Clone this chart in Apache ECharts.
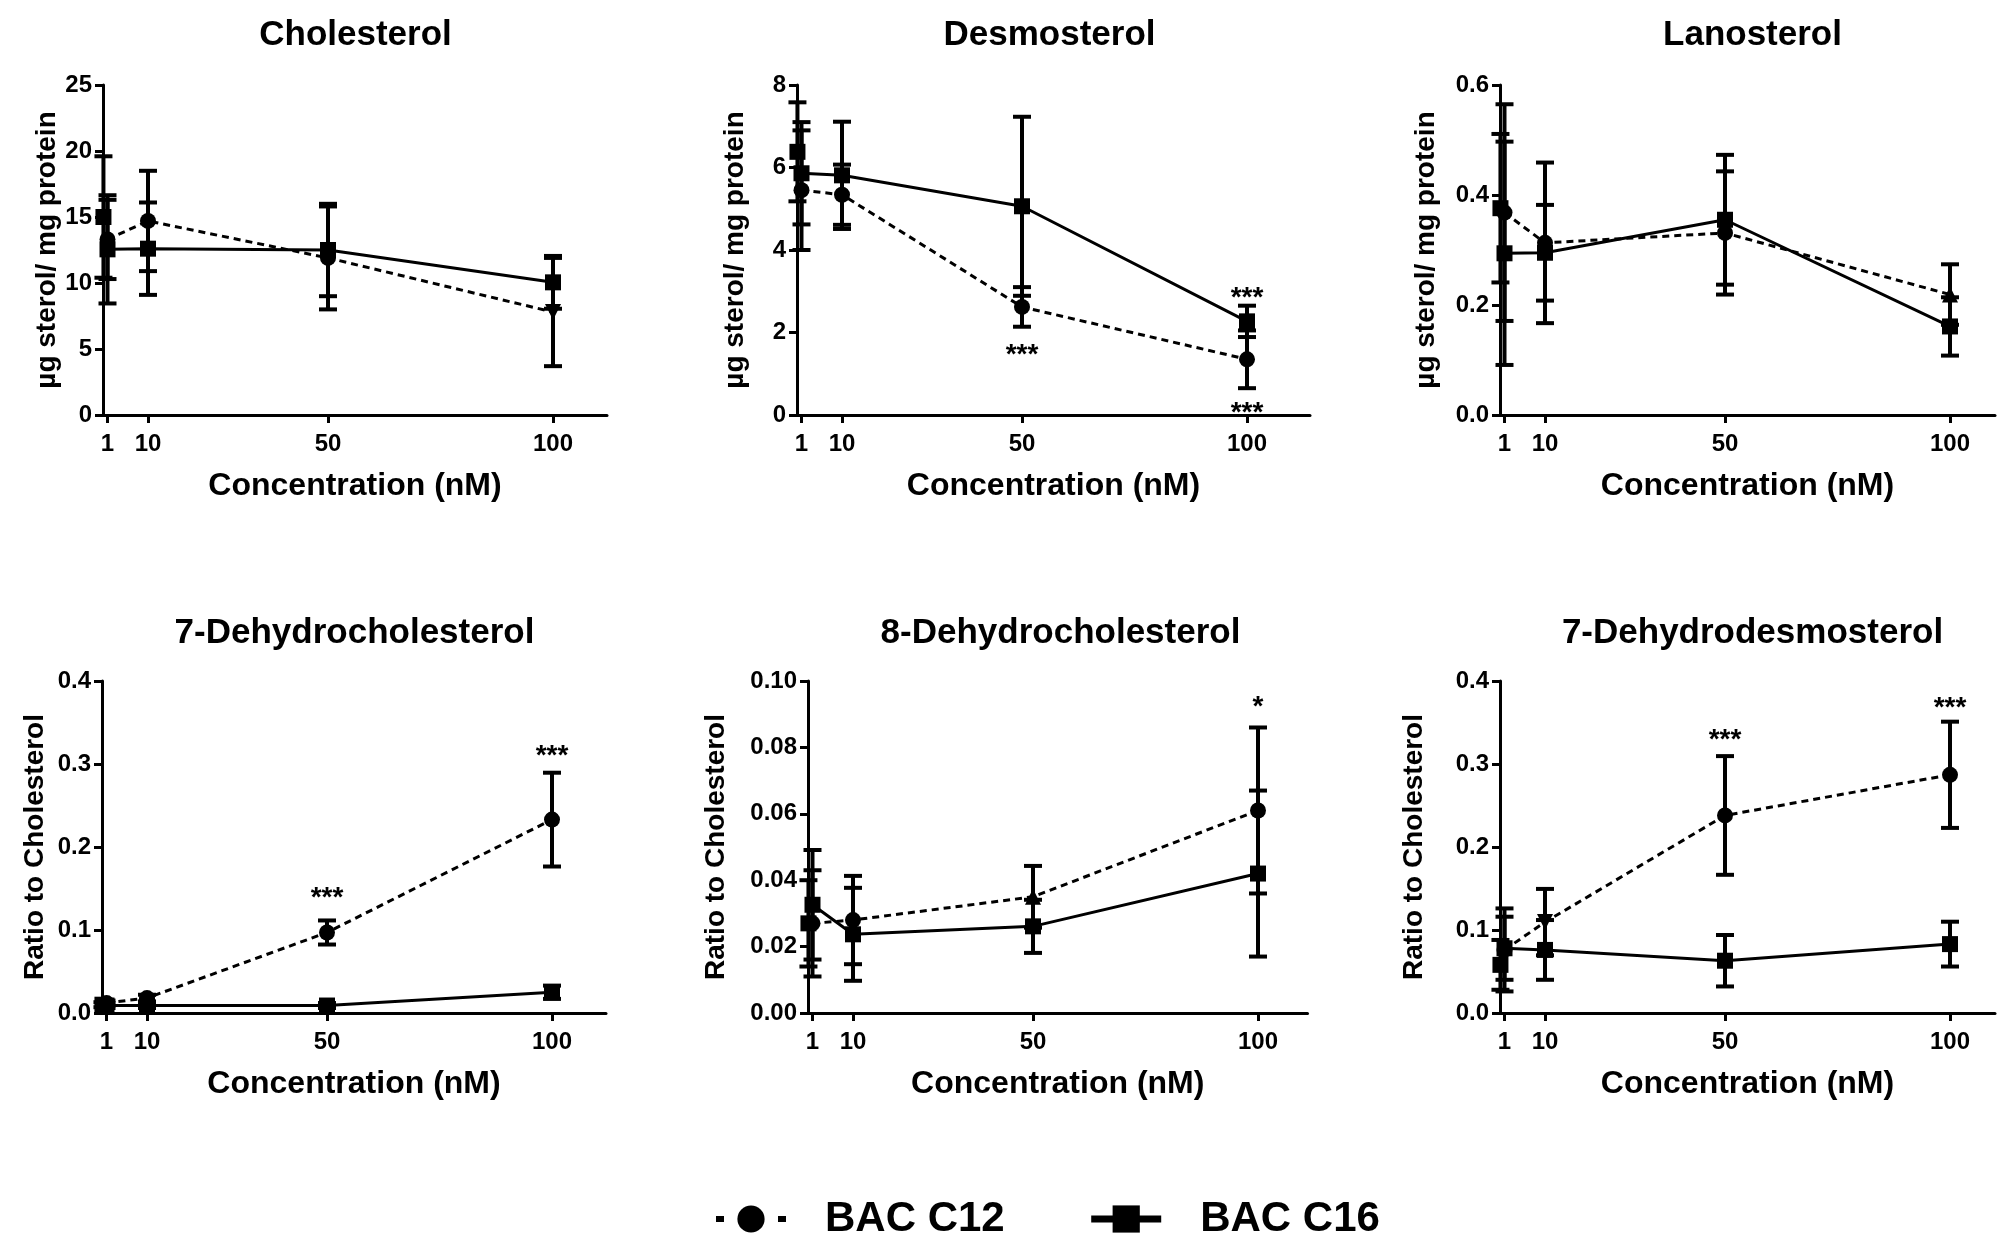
<!DOCTYPE html>
<html><head><meta charset="utf-8">
<script src="https://cdn.jsdelivr.net/npm/echarts@6/dist/echarts.min.js"></script>
<style>html,body{margin:0;padding:0;background:#fff}#c{width:2010px;height:1249px}</style>
</head><body><div id="c"></div>
<script>
// ---------- data ----------
const titles = ['Cholesterol', 'Desmosterol', 'Lanosterol', '7-Dehydrocholesterol', '8-Dehydrocholesterol', '7-Dehydrodesmosterol'];
const yNames = ['µg sterol/ mg protein', 'µg sterol/ mg protein', 'µg sterol/ mg protein', 'Ratio to Cholesterol', 'Ratio to Cholesterol', 'Ratio to Cholesterol'];
const xName = 'Concentration (nM)';
const xTicks = [1, 10, 50, 100];
const doses = [1, 10, 50, 100];
const controlDose = 0.1;
const seriesNames = ['BAC C12', 'BAC C16'];

// y axis: max, step, decimals; x axis max
const yMax = [25, 8, 0.6, 0.4, 0.10, 0.4];
const yStep = [5, 2, 0.2, 0.1, 0.02, 0.1];
const yDecimals = [0, 0, 1, 1, 2, 1];
const xMax = [112, 114, 110, 112, 111, 110];

// Cholesterol
const cholC12 = [13.3, 14.7, 11.9, 7.8];
const cholC12Err = [3.0, 3.8, 3.9, 4.1];
const cholC16 = [12.55, 12.6, 12.5, 10.05];
const cholC16Err = [4.1, 3.5, 3.5, 2.0];
const cholCtrl = [15.0, 4.6];
// Desmosterol
const desC12 = [5.45, 5.34, 2.62, 1.35];
const desC12Err = [1.45, 0.73, 0.48, 0.7];
const desC16 = [5.86, 5.81, 5.06, 2.27];
const desC16Err = [1.24, 1.3, 2.17, 0.38];
const desCtrl = [6.38, 1.2];
// Lanosterol
const lanC12 = [0.368, 0.313, 0.331, 0.219];
const lanC12Err = [0.197, 0.146, 0.112, 0.055];
const lanC16 = [0.294, 0.295, 0.355, 0.161];
const lanC16Err = [0.203, 0.087, 0.118, 0.053];
const lanCtrl = [0.376, 0.135];
// 7-Dehydrocholesterol
const dhc7C12 = [0.012, 0.018, 0.097, 0.233];
const dhc7C12Err = [0.003, 0.004, 0.0145, 0.0565];
const dhc7C16 = [0.009, 0.009, 0.009, 0.025];
const dhc7C16Err = [0.003, 0.003, 0.003, 0.008];
const dhc7Ctrl = [0.010, 0.003];
// 8-Dehydrocholesterol
const dhc8C12 = [0.027, 0.028, 0.035, 0.061];
const dhc8C12Err = [0.016, 0.0133, 0.0093, 0.025];
const dhc8C16 = [0.0326, 0.0237, 0.0261, 0.042];
const dhc8C16Err = [0.0165, 0.014, 0.008, 0.025];
const dhc8Ctrl = [0.027, 0.013];
// 7-Dehydrodesmosterol
const dhd7C12 = [0.076, 0.1095, 0.238, 0.287];
const dhd7C12Err = [0.05, 0.04, 0.0715, 0.064];
const dhd7C16 = [0.078, 0.076, 0.063, 0.083];
const dhd7C16Err = [0.038, 0.036, 0.031, 0.027];
const dhd7Ctrl = [0.058, 0.03];

// significance marks: [dose, value, text]
const cholStars = [];
const desStars = [[50, 1.62, '***'], [100, 3.0, '***'], [100, 0.2, '***']];
const lanStars = [];
const dhc7Stars = [[50, 0.147, '***'], [100, 0.318, '***']];
const dhc8Stars = [[100, 0.0942, '*']];
const dhd7Stars = [[50, 0.337, '***'], [100, 0.376, '***']];

// ---------- layout / style (not data) ----------
const panels = [
  {c12: cholC12, c12e: cholC12Err, c16: cholC16, c16e: cholC16Err, ctrl: cholCtrl, stars: cholStars},
  {c12: desC12, c12e: desC12Err, c16: desC16, c16e: desC16Err, ctrl: desCtrl, stars: desStars},
  {c12: lanC12, c12e: lanC12Err, c16: lanC16, c16e: lanC16Err, ctrl: lanCtrl, stars: lanStars},
  {c12: dhc7C12, c12e: dhc7C12Err, c16: dhc7C16, c16e: dhc7C16Err, ctrl: dhc7Ctrl, stars: dhc7Stars},
  {c12: dhc8C12, c12e: dhc8C12Err, c16: dhc8C16, c16e: dhc8C16Err, ctrl: dhc8Ctrl, stars: dhc8Stars},
  {c12: dhd7C12, c12e: dhd7C12Err, c16: dhd7C16, c16e: dhd7C16Err, ctrl: dhd7Ctrl, stars: dhd7Stars}
];
const c12Shapes = [
  ['circle', 'circle', 'circle', 'down'],
  ['circle', 'circle', 'circle', 'circle'],
  ['circle', 'circle', 'circle', 'triangle'],
  ['circle', 'circle', 'circle', 'circle'],
  ['circle', 'circle', 'triangle', 'circle'],
  ['circle', 'down', 'circle', 'circle']
];
const gridLeft = [103, 797, 1500, 102, 808, 1500];
const gridTop = [85, 85, 85, 681, 681, 681];
const gridH = [330, 330, 330, 332, 332, 332];
const PX_PER_UNIT = 4.5;
const yNameGap = [42, 48, 60, 53, 78, 72];
const FONT = '"Liberation Sans", Arial, Helvetica, sans-serif';
const BLACK = '#000';

const option = {
  animation: false,
  backgroundColor: '#fff',
  title: [], grid: [], xAxis: [], yAxis: [], series: [],
  legend: {
    left: 708, top: 1193, itemWidth: 70, itemHeight: 34, itemGap: 83,
    selectedMode: false,
    textStyle: {fontFamily: FONT, fontWeight: 'bold', fontSize: 42, color: BLACK, padding: [0, 0, 0, 34]},
    data: [
      {name: 'BAC C12', lineStyle: {width: 6, type: [8, 54], color: BLACK}},
      {name: 'BAC C16', lineStyle: {width: 7, type: 'solid', color: BLACK}}
    ]
  }
};

function errRender(params, api) {
  const x = api.value(0), lo = api.value(1), hi = api.value(2);
  const a = api.coord([x, hi]), b = api.coord([x, lo]);
  const hw = 9;
  const st = {stroke: BLACK, lineWidth: 4};
  return {type: 'group', children: [
    {type: 'line', shape: {x1: a[0], y1: a[1], x2: b[0], y2: b[1]}, style: st},
    {type: 'line', shape: {x1: a[0] - hw, y1: a[1], x2: a[0] + hw, y2: a[1]}, style: st},
    {type: 'line', shape: {x1: b[0] - hw, y1: b[1], x2: b[0] + hw, y2: b[1]}, style: st}
  ]};
}
function starRender(params, api) {
  const p = api.coord([api.value(0), api.value(1)]);
  const txt = option.series[params.seriesIndex].data[params.dataIndex][2];
  return {type: 'text', x: p[0], y: p[1] + 7, style: {
    text: txt, font: 'bold 28px ' + FONT, fill: BLACK, align: 'center', verticalAlign: 'middle'}};
}
function sym(s) { return s === 'down' ? {symbol: 'triangle', symbolRotate: 180} : {symbol: s}; }

panels.forEach((P, i) => {
  const w = xMax[i] * PX_PER_UNIT;
  const cx = gridLeft[i] + 110 * PX_PER_UNIT / 2;
  option.title.push({
    text: titles[i], left: cx, top: i < 3 ? 13 : 611, textAlign: 'center',
    textStyle: {fontFamily: FONT, fontWeight: 'bold', fontSize: 35, color: BLACK}
  });
  option.grid.push({left: gridLeft[i], top: gridTop[i], width: w, height: gridH[i], containLabel: false});
  option.xAxis.push({
    type: 'value', gridIndex: i, min: 0, max: xMax[i],
    name: xName, nameLocation: 'middle', nameGap: 55,
    nameTextStyle: {fontFamily: FONT, fontWeight: 'bold', fontSize: 32, color: BLACK},
    axisLine: {show: true, onZero: false, lineStyle: {color: BLACK, width: 3}},
    axisTick: {show: true, customValues: xTicks, length: 8, lineStyle: {color: BLACK, width: 3}},
    axisLabel: {show: true, customValues: xTicks, margin: 17, fontFamily: FONT, fontWeight: 'bold', fontSize: 24, color: BLACK},
    splitLine: {show: false}
  });
  option.yAxis.push({
    type: 'value', gridIndex: i, min: 0, max: yMax[i], interval: yStep[i],
    name: yNames[i], nameLocation: 'middle', nameRotate: 90, nameGap: yNameGap[i],
    nameTextStyle: {fontFamily: FONT, fontWeight: 'bold', fontSize: 28, color: BLACK},
    axisLine: {show: true, lineStyle: {color: BLACK, width: 3}},
    axisTick: {show: true, length: 8, lineStyle: {color: BLACK, width: 3}},
    axisLabel: {margin: 11, fontFamily: FONT, fontWeight: 'bold', fontSize: 24, color: BLACK,
      formatter: v => (+v).toFixed(yDecimals[i])},
    splitLine: {show: false}
  });
  // error bars
  const bars = [];
  doses.forEach((d, k) => {
    bars.push([d, P.c12[k] - P.c12e[k], P.c12[k] + P.c12e[k]]);
    bars.push([d, P.c16[k] - P.c16e[k], P.c16[k] + P.c16e[k]]);
  });
  bars.push([controlDose, P.ctrl[0] - P.ctrl[1], P.ctrl[0] + P.ctrl[1]]);
  option.series.push({
    type: 'custom', name: 'err' + i, xAxisIndex: i, yAxisIndex: i, renderItem: errRender,
    data: bars, z: 3, silent: true
  });
  option.series.push({
    type: 'line', name: seriesNames[0], xAxisIndex: i, yAxisIndex: i,
    data: doses.map((d, k) => Object.assign({value: [d, P.c12[k]]}, sym(c12Shapes[i][k]))),
    symbol: 'circle', symbolSize: 16, z: 4,
    lineStyle: {color: BLACK, width: 3, type: [7, 5]}, itemStyle: {color: BLACK, opacity: 1}
  });
  option.series.push({
    type: 'line', name: seriesNames[1], xAxisIndex: i, yAxisIndex: i,
    data: doses.map((d, k) => [d, P.c16[k]]),
    symbol: 'rect', symbolSize: 16, z: 4,
    lineStyle: {color: BLACK, width: 3, type: 'solid'}, itemStyle: {color: BLACK, opacity: 1}
  });
  option.series.push({
    type: 'scatter', name: 'ctrl' + i, xAxisIndex: i, yAxisIndex: i,
    data: [[controlDose, P.ctrl[0]]], symbol: 'rect', symbolSize: 16, z: 4,
    itemStyle: {color: BLACK, opacity: 1}
  });
  if (P.stars.length) {
    option.series.push({
      type: 'custom', name: 'stars' + i, xAxisIndex: i, yAxisIndex: i, renderItem: starRender,
      data: P.stars, z: 5, silent: true
    });
  }
});

const chart = echarts.init(document.getElementById('c'), null, {renderer: 'canvas'});
chart.setOption(option);
</script>
</body></html>
